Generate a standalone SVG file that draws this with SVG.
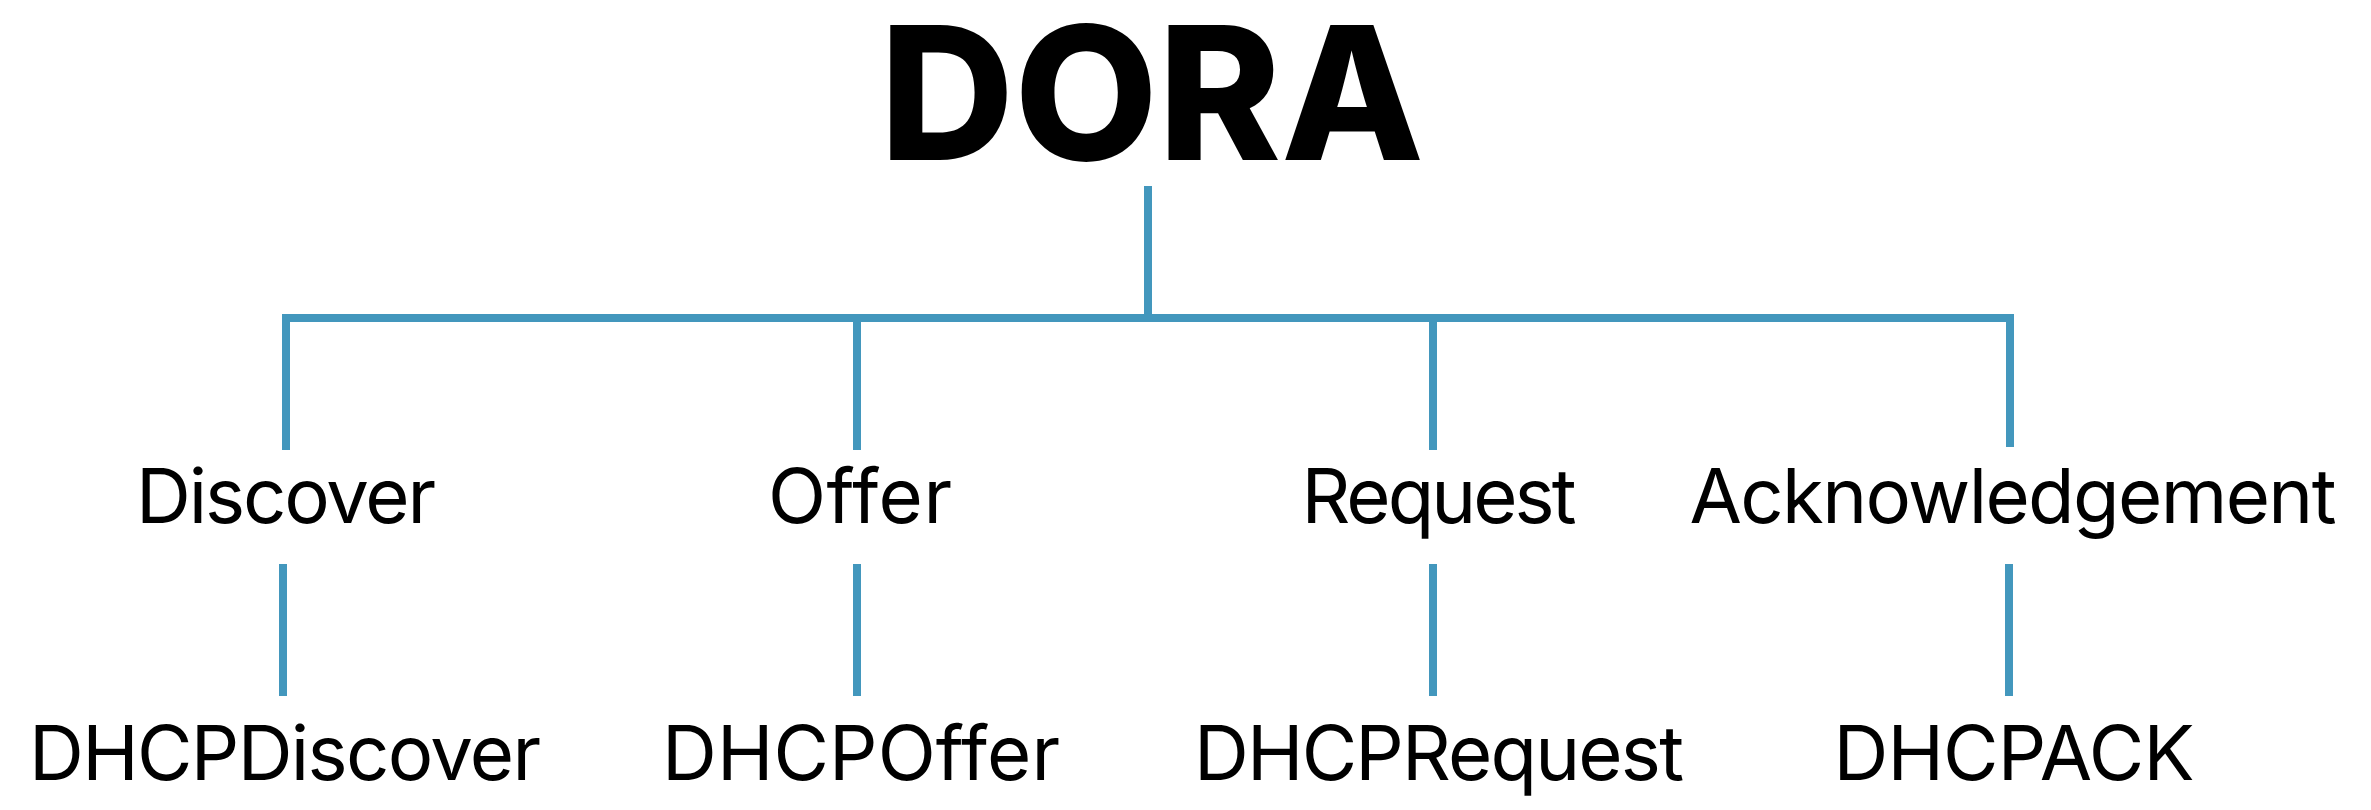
<svg xmlns="http://www.w3.org/2000/svg" width="2371" height="810" viewBox="0 0 2371 810">
<style>
.lbl{font-family:Inter,"Liberation Sans",sans-serif;font-size:76px;font-weight:400;fill:#000;text-anchor:middle}
.title{font-family:Inter,"Liberation Sans",sans-serif;font-size:186px;font-weight:800;fill:#000;text-anchor:middle}
.ln{fill:none;stroke:#4397BD;stroke-width:8;stroke-linecap:butt;stroke-linejoin:miter}
</style>
<rect width="2371" height="810" fill="#fff"/>
<g id="connectors">
<path class="ln" d="M1148,186 V318"/>
<path class="ln" d="M286,450 V318 H2010 V447"/>
<path class="ln" d="M857,318 V450"/>
<path class="ln" d="M1433,318 V450"/>
<path class="ln" d="M283,564 V696"/>
<path class="ln" d="M857,564 V696"/>
<path class="ln" d="M1433,564 V696"/>
<path class="ln" d="M2009,564 V696"/>
</g>
<g id="dora"><text class="title" x="1152" y="160">DORA</text></g>
<g id="discover"><text class="lbl" x="286" y="523" textLength="300">Discover</text></g>
<g id="offer"><text class="lbl" x="860" y="523" textLength="184">Offer</text></g>
<g id="request"><text class="lbl" x="1439" y="523" textLength="275">Request</text></g>
<g id="acknowledgement"><text class="lbl" x="2013" y="523" textLength="647">Acknowledgement</text></g>
<g id="dhcpdiscover"><text class="lbl" x="285" y="780" textLength="512">DHCPDiscover</text></g>
<g id="dhcpoffer"><text class="lbl" x="861" y="780" textLength="398">DHCPOffer</text></g>
<g id="dhcprequest"><text class="lbl" x="1439" y="780" textLength="490">DHCPRequest</text></g>
<g id="dhcpack"><text class="lbl" x="2014" y="780" textLength="361">DHCPACK</text></g>
</svg>
